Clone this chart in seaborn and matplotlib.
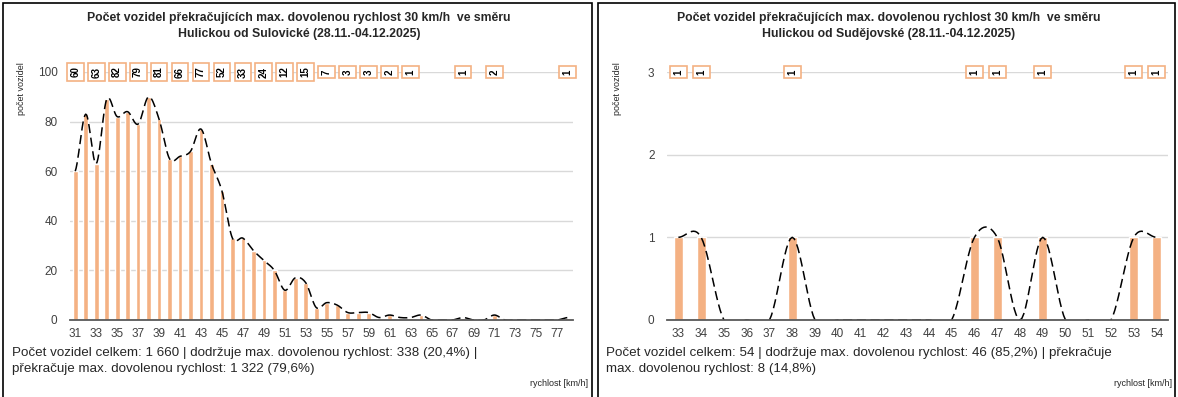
import numpy as np
import pandas as pd
import seaborn as sns
import matplotlib.pyplot as plt
from matplotlib.patches import Rectangle

# --- data -------------------------------------------------------------
speeds_left = list(range(31, 79))
counts_left = [60, 83, 63, 89, 82, 84, 79, 90, 81, 65, 66, 68, 77, 63, 52, 33,
               33, 28, 24, 20, 12, 17, 15, 5, 7, 6, 3, 3, 3, 1, 2, 1,
               1, 2, 0, 0, 0, 1, 0, 0, 2, 0, 0, 0, 0, 0, 0, 1]
labelled_left = [31, 33, 35, 37, 39, 41, 43, 45, 47, 49, 51, 53, 55, 57, 59, 61, 63, 68, 71, 78]

speeds_right = list(range(33, 55))
counts_right = [1, 1, 0, 0, 0, 1, 0, 0, 0, 0, 0, 0, 0, 1, 1, 0, 1, 0, 0, 0, 1, 1]
labelled_right = [s for s, c in zip(speeds_right, counts_right) if c > 0]

title_left = "Počet vozidel překračujících max. dovolenou rychlost 30 km/h  ve směru\nHulickou od Sulovické (28.11.-04.12.2025)"
title_right = "Počet vozidel překračujících max. dovolenou rychlost 30 km/h  ve směru\nHulickou od Sudějovské (28.11.-04.12.2025)"
footer_left = "Počet vozidel celkem: 1 660 | dodržuje max. dovolenou rychlost: 338 (20,4%) |\npřekračuje max. dovolenou rychlost: 1 322 (79,6%)"
footer_right = "Počet vozidel celkem: 54 | dodržuje max. dovolenou rychlost: 46 (85,2%) | překračuje\nmax. dovolenou rychlost: 8 (14,8%)"

BAR = "#F4B183"
W, H = 1178, 397

sns.set_theme(style="white")
plt.rcParams['font.family'] = ['Liberation Sans', 'DejaVu Sans']


def px(x, y):
    return x / W, 1 - y / H


def smooth(y, n=12):
    # Catmull-Rom style smoothing, similar to the spreadsheet "smoothed line"
    y = np.asarray(y, float)
    p = np.concatenate([[y[0]], y, [y[-1]]])
    xs, ys = [], []
    for i in range(len(y) - 1):
        p0, p1, p2, p3 = p[i], p[i + 1], p[i + 2], p[i + 3]
        t = np.linspace(0, 1, n, endpoint=False)
        m1 = (p2 - p0) / 2
        m2 = (p3 - p1) / 2
        h = (2*t**3 - 3*t**2 + 1) * p1 + (t**3 - 2*t**2 + t) * m1 \
            + (-2*t**3 + 3*t**2) * p2 + (t**3 - t**2) * m2
        xs.extend(i + t)
        ys.extend(h)
    xs.append(len(y) - 1)
    ys.append(y[-1])
    return np.array(xs), np.array(ys)


def draw_panel(ax, speeds, counts, labelled, top, yticks, tick_step, bar_w):
    df = pd.DataFrame({"speed": [str(s) for s in speeds], "count": counts})
    sns.barplot(data=df, x="speed", y="count", color=BAR, saturation=1,
                width=bar_w, ax=ax)
    xs, ys = smooth(counts)
    sns.lineplot(x=xs, y=ys, ax=ax, color="black", linewidth=1.1,
                 linestyle=(0, (6, 3)), sort=False, estimator=None)
    for i, (s, c) in enumerate(zip(speeds, counts)):
        if s in labelled:
            ax.text(i, top, str(c), rotation=90, ha="center", va="center",
                    fontsize=7, fontweight="bold", color="black", clip_on=False,
                    bbox=dict(boxstyle="square,pad=0.35", fc="white", ec=BAR, lw=1.2))
    ax.set_ylim(0, top)
    ax.set_xlim(-0.5, len(speeds) - 0.5)
    ax.set_yticks(yticks)
    ax.set_xticks(range(0, len(speeds), tick_step))
    ax.set_xticklabels([str(s) for s in speeds[::tick_step]])
    ax.yaxis.grid(True, color="#D9D9D9", linewidth=1)
    ax.set_axisbelow(True)
    for side in ["top", "right", "left"]:
        ax.spines[side].set_visible(False)
    ax.spines["bottom"].set_color("#595959")
    ax.spines["bottom"].set_linewidth(1.3)
    ax.tick_params(axis="x", length=0, labelsize=8.5, colors="#404040", pad=6)
    ax.tick_params(axis="y", length=0, labelsize=8.5, colors="#404040", pad=9)
    ax.set_xlabel("")
    ax.set_ylabel("")


fig = plt.figure(figsize=(W / 100, H / 100), dpi=100)

axL = fig.add_axes([70 / W, 1 - 320 / H, 503 / W, 248 / H])
draw_panel(axL, speeds_left, counts_left, labelled_left, 100, [0, 20, 40, 60, 80, 100], 2, 0.45)

axR = fig.add_axes([667 / W, 1 - 320 / H, 501 / W, 248 / H])
draw_panel(axR, speeds_right, counts_right, labelled_right, 3, [0, 1, 2, 3], 1, 0.4)

# panel frames
fig.patches.append(Rectangle(px(3, 400), 589 / W, 397 / H, transform=fig.transFigure,
                             fill=False, ec="black", lw=1.2))
fig.patches.append(Rectangle(px(598, 400), 577 / W, 397 / H, transform=fig.transFigure,
                             fill=False, ec="black", lw=1.2))

for cx, title in [(299, title_left), (889, title_right)]:
    fig.text(*px(cx, 26), title, ha="center", va="center", fontsize=8.8,
             fontweight="bold", color="#262626", linespacing=1.35)

for x0, foot in [(12, footer_left), (606, footer_right)]:
    fig.text(*px(x0, 361), foot, ha="left", va="center", fontsize=9.6,
             color="#262626", linespacing=1.4)

for xr in [588, 1172]:
    fig.text(*px(xr, 384), "rychlost [km/h]", ha="right", va="center",
             fontsize=6.5, color="#262626")

for xl in [22, 617]:
    fig.text(*px(xl, 62), "počet vozidel", rotation=90, ha="center", va="top",
             fontsize=6.5, color="#262626")

fig.savefig("out.png", dpi=100)
